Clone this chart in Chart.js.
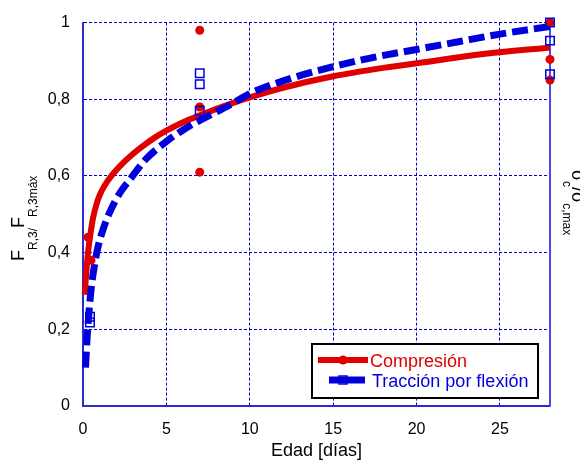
<!DOCTYPE html>
<html>
<head>
<meta charset="utf-8">
<script src="https://cdn.jsdelivr.net/npm/chart.js@4"></script>
<style>
  body { margin: 0; background: #fff; }
</style>
</head>
<body>
<canvas id="chart" width="580" height="462"></canvas>
<script>
// fitted curve, compression
const compFitX = [0.1, 0.2, 0.3, 0.45, 0.6, 0.8, 1.0, 1.3, 1.7, 2.2, 2.8, 3.5, 4.3, 5, 6, 7, 8, 10, 12, 15, 18, 21, 24, 28];
const compFitY = [0.29, 0.35, 0.4, 0.45, 0.49, 0.525, 0.55, 0.575, 0.6, 0.625, 0.65, 0.675, 0.7, 0.718, 0.74, 0.758, 0.775, 0.805, 0.83, 0.86, 0.882, 0.9, 0.918, 0.935];

// fitted curve, flexural tension
const flexFitX = [0.15, 0.25, 0.35, 0.5, 0.7, 0.9, 1.2, 1.6, 2.2, 2.8, 3.8, 5, 6, 7, 8.8, 10, 12.5, 15, 17.5, 20, 22.5, 25, 28];
const flexFitY = [0.1, 0.18, 0.24, 0.31, 0.37, 0.415, 0.46, 0.505, 0.555, 0.59, 0.645, 0.69, 0.72, 0.745, 0.785, 0.815, 0.855, 0.885, 0.91, 0.93, 0.95, 0.97, 0.99];

// measured points
const compAge = [0.3, 0.48, 7, 7, 7, 28, 28, 28];
const compVal = [0.44, 0.38, 0.98, 0.78, 0.61, 1.0, 0.904, 0.85];
const flexAge = [0.42, 0.42, 7, 7, 7, 28, 28, 28];
const flexVal = [0.233, 0.218, 0.868, 0.839, 0.77, 1.0, 0.953, 0.865];

const xTicks = [0, 5, 10, 15, 20, 25];
const yTicks = [0, 0.2, 0.4, 0.6, 0.8, 1];

const RED = '#e00000';
const BLUE = '#0000dd';
const FONT = 'Liberation Sans, Arial, sans-serif';

const pts = (xs, ys) => xs.map((x, i) => ({ x: x, y: ys[i] }));

// titles with subscripts + the boxed legend
const extras = {
    id: 'extras',
    afterDraw(chart) {
        const ctx = chart.ctx;
        ctx.save();

        // left title, reads bottom to top
        ctx.save();
        ctx.translate(24, 261);
        ctx.rotate(-Math.PI / 2);
        ctx.fillStyle = '#000';
        ctx.textBaseline = 'alphabetic';
        let x = 0;
        const part = (txt, size, dy) => {
            ctx.font = size + 'px ' + FONT;
            ctx.fillText(txt, x, dy);
            x += ctx.measureText(txt).width;
        };
        part('F', 18, 0);
        part('R,3/', 12, 13);
        part('F', 18, 0);
        part('R,3máx', 12, 13);
        ctx.restore();

        // right title, reads top to bottom (partly off the canvas)
        ctx.save();
        ctx.translate(572, 170);
        ctx.rotate(Math.PI / 2);
        ctx.fillStyle = '#000';
        x = 0;
        part('σ', 18, 0);
        part('c', 12, 9);
        part('/', 18, 0);
        part('σ', 18, 0);
        part('c,max', 12, 9);
        ctx.restore();

        // legend box
        ctx.fillStyle = '#fff';
        ctx.fillRect(312, 344, 226, 54);
        ctx.lineWidth = 2;
        ctx.strokeStyle = '#000';
        ctx.strokeRect(312, 344, 226, 54);

        ctx.lineCap = 'butt';
        ctx.lineWidth = 6;
        ctx.strokeStyle = RED;
        ctx.beginPath();
        ctx.moveTo(318, 360);
        ctx.lineTo(368, 360);
        ctx.stroke();
        ctx.fillStyle = RED;
        ctx.beginPath();
        ctx.arc(343, 360, 4.5, 0, Math.PI * 2);
        ctx.fill();

        ctx.lineWidth = 7;
        ctx.strokeStyle = BLUE;
        ctx.beginPath();
        ctx.moveTo(329, 380);
        ctx.lineTo(365, 380);
        ctx.stroke();
        ctx.lineWidth = 1.5;
        ctx.strokeRect(339, 376, 8, 8);

        ctx.font = '18px ' + FONT;
        ctx.textBaseline = 'alphabetic';
        ctx.fillStyle = RED;
        ctx.fillText('Compresión', 370, 367);
        ctx.fillStyle = BLUE;
        ctx.fillText('Tracción por flexión', 372, 387);

        ctx.restore();
    }
};

new Chart(document.getElementById('chart'), {
    type: 'scatter',
    data: {
        datasets: [
            {
                label: 'Tracción por flexión',
                data: pts(flexAge, flexVal),
                pointStyle: 'rect',
                pointRadius: 6,
                pointBorderWidth: 1.5,
                pointBorderColor: BLUE,
                pointBackgroundColor: 'rgba(0,0,0,0)',
                showLine: false,
                clip: false,
                order: 0
            },
            {
                label: 'Compresión',
                data: pts(compAge, compVal),
                pointStyle: 'circle',
                pointRadius: 4.5,
                pointBorderWidth: 0,
                pointBackgroundColor: RED,
                showLine: false,
                clip: false,
                order: 1
            },
            {
                label: 'flex fit',
                data: pts(flexFitX, flexFitY),
                showLine: true,
                borderColor: BLUE,
                borderWidth: 7,
                borderDash: [16, 6],
                borderCapStyle: 'butt',
                cubicInterpolationMode: 'monotone',
                pointRadius: 0,
                clip: false,
                order: 2
            },
            {
                label: 'comp fit',
                data: pts(compFitX, compFitY),
                showLine: true,
                borderColor: RED,
                borderWidth: 6,
                cubicInterpolationMode: 'monotone',
                pointRadius: 0,
                clip: false,
                order: 3
            }
        ]
    },
    options: {
        responsive: false,
        animation: false,
        devicePixelRatio: 1,
        layout: { padding: { top: 20, right: 0, bottom: 0, left: 0 } },
        plugins: {
            legend: { display: false },
            tooltip: { enabled: false }
        },
        scales: {
            x: {
                type: 'linear',
                min: 0,
                max: 28,
                afterBuildTicks: s => { s.ticks = xTicks.map(v => ({ value: v })); },
                afterFit: s => { s.height = 56; },
                ticks: {
                    color: '#000',
                    font: { family: FONT, size: 16 },
                    padding: 14,
                    maxRotation: 0
                },
                grid: { color: '#0000cc', lineWidth: 1, drawTicks: false },
                border: { color: '#2a2ad0', width: 2, dash: [3, 2] },
                title: {
                    display: true,
                    text: 'Edad [días]',
                    color: '#000',
                    font: { family: FONT, size: 18 },
                    padding: { top: 0, bottom: 0 }
                }
            },
            y: {
                position: 'left',
                min: 0,
                max: 1,
                afterBuildTicks: s => { s.ticks = yTicks.map(v => ({ value: v })); },
                afterFit: s => { s.width = 83; },
                ticks: {
                    color: '#000',
                    font: { family: FONT, size: 16 },
                    padding: 13,
                    callback: v => String(Number(v.toFixed(1))).replace('.', ',')
                },
                grid: { color: '#0000cc', lineWidth: 1, drawTicks: false },
                border: { color: '#2a2ad0', width: 2, dash: [3, 2] }
            },
            y2: {
                position: 'right',
                min: 0,
                max: 1,
                afterFit: s => { s.width = 30; },
                ticks: { display: false },
                grid: { drawOnChartArea: false, drawTicks: false },
                border: { color: '#4a4ae8', width: 2 }
            }
        }
    },
    plugins: [extras]
});
</script>
</body>
</html>
